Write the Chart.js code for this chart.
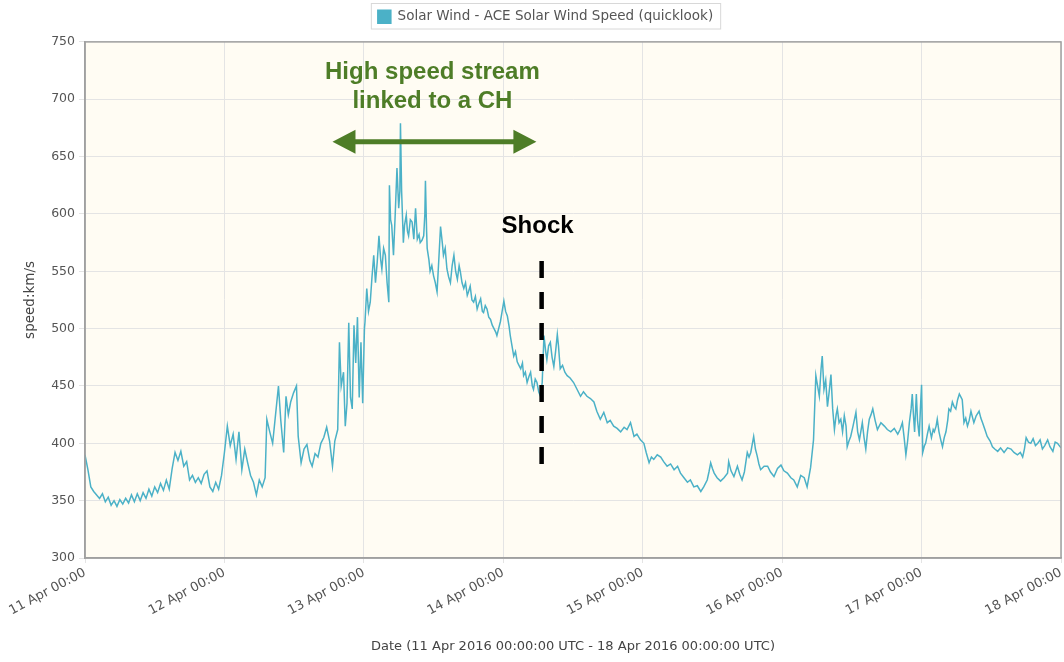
<!DOCTYPE html>
<html>
<head>
<meta charset="utf-8">
<script src="https://cdn.jsdelivr.net/npm/chart.js@4.4.1/dist/chart.umd.min.js"></script>
<style>
  html, body { margin: 0; padding: 0; background: #fff; }
  #wrap { width: 1064px; height: 662px; }
</style>
</head>
<body>
<div id="wrap"><canvas id="windChart"></canvas></div>
<script>
// tick labels, one per day
const dayLabels = ['11 Apr 00:00', '12 Apr 00:00', '13 Apr 00:00', '14 Apr 00:00',
  '15 Apr 00:00', '16 Apr 00:00', '17 Apr 00:00', '18 Apr 00:00'];

// [hours since 11 Apr 00:00, speed km/s]
const apr11 = [[0,390],[0.5,377],[1,362],[1.5,358],[2,355],[2.5,352],[3,356],[3.5,349],[4,353],[4.5,346],
  [5,350],[5.5,345],[6,351],[6.5,347],[7,352],[7.5,348],[8,355],[8.5,349],[9,356],[9.5,350],[10,357],
  [10.5,352],[11,360],[11.5,354],[12,362],[12.5,357],[13,365],[13.5,359],[14,368],[14.5,360],[15,378],
  [15.5,392],[16,385],[16.5,393],[17,380],[17.5,384],[18,368],[18.5,372],[19,366],[19.5,370],[20,365],
  [20.5,373],[21,376],[21.5,362],[22,358],[22.5,366],[23,360],[23.5,372]];
const apr12 = [[24,392],[24.5,415],[25,398],[25.5,408],[26,386],[26.5,410],[27,377],[27.5,395],[28,383],
  [28.5,372],[29,366],[29.5,355],[30,368],[30.5,362],[31,370],[31.3,421],[31.8,410],[32.3,400],[32.8,425],
  [33.3,450],[33.7,420],[34.2,392],[34.6,441],[35,425],[35.4,436],[35.9,444],[36.4,450],[36.7,406],
  [37.2,383],[37.7,395],[38.2,399],[38.7,385],[39.1,380],[39.6,391],[40.1,388],[40.6,400],[41.1,405],
  [41.6,414],[42.1,402],[42.6,380],[43,402],[43.5,412],[43.8,488],[44.1,450],[44.5,462],[44.8,415],
  [45.1,435],[45.4,505],[45.7,440],[46,430],[46.3,503],[46.6,470],[46.9,510],[47.2,440],[47.5,488],
  [47.8,435]];
const apr13 = [[48.1,500],[48.2,506],[48.5,535],[48.8,515],[49.1,523],[49.4,545],[49.7,564],[50,540],
  [50.3,558],[50.6,581],[50.9,560],[51.1,552],[51.4,570],[51.7,564],[52,540],[52.3,523],[52.4,625],
  [52.6,595],[52.8,590],[53.1,564],[53.4,600],[53.7,640],[54,605],[54.2,620],[54.3,679],[54.5,620],
  [54.6,605],[54.8,575],[55,590],[55.3,599],[55.5,585],[55.7,581],[56,595],[56.3,593],[56.6,578],
  [56.9,605],[57.2,578],[57.5,582],[57.7,575],[58,577],[58.3,581],[58.5,600],[58.6,629],[58.8,585],
  [58.9,570],[59.2,560],[59.4,550],[59.7,555],[60,546],[60.3,540],[60.6,532],[60.9,560],[61.2,589],
  [61.5,575],[61.7,564],[62,570],[62.3,552],[62.6,545],[62.9,540],[63.2,555],[63.5,564],[63.8,550],
  [64.1,543],[64.4,555],[64.6,550],[64.9,540],[65.2,535],[65.5,540],[65.8,529],[66,532],[66.3,537],
  [66.6,525],[66.9,523],[67.2,528],[67.5,517],[67.8,522],[68.1,526],[68.4,515],[68.6,514],[68.9,520],
  [69.2,517],[69.5,510],[69.8,508],[70.1,503],[70.4,500],[70.7,497],[70.9,494],[71.2,500],[71.5,506],
  [71.8,515]];
const apr14 = [[72.1,524],[72.4,515],[72.7,511],[73,502],[73.2,494],[73.5,485],[73.8,476],[74.1,480],
  [74.4,471],[74.7,468],[75,465],[75.3,470],[75.5,459],[75.8,462],[76.1,453],[76.4,458],[76.7,462],
  [77,450],[77.2,447],[77.5,456],[77.8,453],[78.1,445],[78.4,441],[78.7,453],[79,494],[79.3,480],
  [79.5,473],[79.8,485],[80.1,488],[80.4,475],[80.7,467],[81,480],[81.3,495],[81.5,485],[81.8,465],
  [82.2,468],[82.6,462],[83,459],[83.5,457],[84.1,453],[84.6,448],[85.3,441],[85.8,445],[86.4,441],
  [87,439],[87.6,436],[88.1,428],[88.7,421],[89.3,427],[89.9,418],[90.4,420],[91,415],[91.6,413],
  [92.2,410],[92.8,414],[93.3,412],[93.9,418],[94.5,406],[95,408],[95.6,403]];
const apr15 = [[96.2,400],[96.6,392],[97.1,383],[97.5,388],[97.9,386],[98.5,390],[99.1,388],[99.6,384],
  [100.2,380],[100.8,382],[101.4,377],[102,380],[102.5,374],[103.1,370],[103.7,366],[104.2,368],
  [104.8,362],[105.4,363],[106,358],[106.5,362],[107.1,368],[107.4,375],[107.7,383],[108,378],
  [108.3,374],[108.8,370],[109.4,367],[110,370],[110.6,374],[110.8,384],[111.2,376],[111.7,371],
  [112.3,380],[112.7,373],[113.1,368],[113.5,375],[114,392],[114.3,388],[114.6,392],[115.1,406],
  [115.4,395],[115.7,389],[116,382],[116.3,377],[116.9,380],[117.5,380],[118,375],[118.6,371],
  [119.2,378],[119.8,381]];
const apr16 = [[120.3,376],[120.9,374],[121.5,370],[122,368],[122.6,362],[123.2,372],[123.8,370],
  [124.3,362],[124.9,379],[125.4,403],[125.8,459],[126.1,450],[126.4,441],[126.7,465],[126.9,476],
  [127.2,447],[127.5,455],[127.8,432],[128.1,445],[128.4,460],[128.7,430],[129,412],[129.3,425],
  [129.5,430],[129.8,418],[130.1,421],[130.4,410],[130.7,424],[131,415],[131.2,397],[131.5,402],
  [131.8,406],[132.2,415],[132.7,427],[133,410],[133.3,403],[133.6,412],[133.8,418],[134.1,405],
  [134.4,395],[134.7,410],[135,421],[135.3,425],[135.6,430],[136,420],[136.4,412],[137,418],
  [137.6,415],[138.1,412],[138.7,410],[139.3,413],[139.9,408],[140.3,412],[140.7,418],[141,405],
  [141.3,390],[141.6,402],[141.9,418],[142.2,430],[142.4,443],[142.6,425],[142.8,410],[143.1,443],
  [143.3,420],[143.6,406],[143.8,430]];
const apr17 = [[144,451],[144.2,392],[144.5,398],[144.7,400],[145,408],[145.3,415],[145.7,405],[146,412],
  [146.2,410],[146.5,415],[146.7,421],[147,410],[147.3,403],[147.6,397],[147.9,405],[148.2,410],
  [148.5,420],[148.7,430],[149,428],[149.3,436],[149.6,432],[149.9,430],[150.2,438],[150.5,443],
  [150.8,440],[151,438],[151.3,418],[151.6,422],[151.9,415],[152.2,420],[152.5,428],[152.8,422],
  [153,418],[153.4,424],[153.9,428],[154.2,422],[154.5,418],[154.9,412],[155.3,406],[155.8,402],
  [156.2,397],[156.6,395],[157.1,393],[157.6,396],[158.2,392],[158.8,396],[159.4,395],[159.9,392],
  [160.5,390],[161,392],[161.4,388],[161.7,395],[162,405],[162.4,401],[162.8,400],[163.2,404],
  [163.6,398],[164,400],[164.4,403],[164.8,395],[165.2,398],[165.7,403],[166.1,397],[166.6,393],
  [167,401],[167.4,400],[168,396]];

const samples = [...apr11, ...apr12, ...apr13, ...apr14, ...apr15, ...apr16, ...apr17];

// annotations, in data units (hours, km/s)
const hssLabel = ['High speed stream', 'linked to a CH'];
const hssLabelAt = [59.8, 723.5, 698.5];
const hssArrow = [42.6, 77.7, 663];
const shockLabelAt = [77.9, 589];
const shockLine = [78.6, 559, 380];

const GREEN = '#4e7d27';
const LEGEND_SHIFT = 15; // legend sits a bit right of page centre

const plotDecor = {
  id: 'plotDecor',
  afterLayout(chart) {
    chart.legend.left += LEGEND_SHIFT;
    chart.legend.right += LEGEND_SHIFT;
  },
  beforeDraw(chart) {
    const a = chart.chartArea, ctx = chart.ctx;
    ctx.save();
    ctx.fillStyle = '#fffcf3';
    ctx.fillRect(a.left, a.top, a.right - a.left, a.bottom - a.top);
    ctx.restore();
  },
  afterDraw(chart) {
    const {ctx, chartArea: a, scales: {x, y}} = chart;
    ctx.save();
    // frame
    ctx.strokeStyle = '#a0a0a0';
    ctx.lineWidth = 1.5;
    ctx.strokeRect(a.left, a.top, a.right - a.left, a.bottom - a.top);

    // legend frame
    const hb = chart.legend.legendHitBoxes[0];
    if (hb) {
      ctx.strokeStyle = '#d8d8d8';
      ctx.lineWidth = 1;
      ctx.strokeRect(hb.left - 6.5, hb.top - 6.5, hb.width + 14, hb.height + 12);
    }

    // green label
    ctx.fillStyle = GREEN;
    ctx.font = 'bold 24px "Liberation Sans", Arial, sans-serif';
    ctx.textAlign = 'center';
    ctx.textBaseline = 'middle';
    const lx = x.getPixelForValue(hssLabelAt[0]);
    ctx.fillText(hssLabel[0], lx, y.getPixelForValue(hssLabelAt[1]));
    ctx.fillText(hssLabel[1], lx, y.getPixelForValue(hssLabelAt[2]));

    // double arrow
    const ax0 = x.getPixelForValue(hssArrow[0]);
    const ax1 = x.getPixelForValue(hssArrow[1]);
    const ay = y.getPixelForValue(hssArrow[2]);
    const head = 23, half = 12;
    ctx.strokeStyle = GREEN;
    ctx.lineWidth = 5;
    ctx.beginPath();
    ctx.moveTo(ax0 + head - 2, ay);
    ctx.lineTo(ax1 - head + 2, ay);
    ctx.stroke();
    ctx.beginPath();
    ctx.moveTo(ax0, ay);
    ctx.lineTo(ax0 + head, ay - half);
    ctx.lineTo(ax0 + head, ay + half);
    ctx.closePath();
    ctx.moveTo(ax1, ay);
    ctx.lineTo(ax1 - head, ay - half);
    ctx.lineTo(ax1 - head, ay + half);
    ctx.closePath();
    ctx.fill();

    // shock
    ctx.fillStyle = '#000';
    ctx.fillText('Shock', x.getPixelForValue(shockLabelAt[0]), y.getPixelForValue(shockLabelAt[1]));
    const sx = x.getPixelForValue(shockLine[0]);
    ctx.strokeStyle = '#000';
    ctx.lineWidth = 4.5;
    ctx.setLineDash([17, 14]);
    ctx.beginPath();
    ctx.moveTo(sx, y.getPixelForValue(shockLine[1]));
    ctx.lineTo(sx, y.getPixelForValue(shockLine[2]));
    ctx.stroke();
    ctx.restore();
  }
};

Chart.defaults.font.family = '"DejaVu Sans", sans-serif';
Chart.defaults.color = '#444';

new Chart(document.getElementById('windChart'), {
  type: 'line',
  data: {
    datasets: [{
      label: 'Solar Wind - ACE Solar Wind Speed (quicklook)',
      data: samples.map(s => ({x: s[0], y: s[1]})),
      borderColor: '#4bb1c7',
      backgroundColor: '#4bb1c7',
      borderWidth: 1.5,
      pointRadius: 0,
      tension: 0
    }]
  },
  options: {
    responsive: true,
    maintainAspectRatio: false,
    animation: false,
    layout: { padding: { top: 0, right: 3, left: 0, bottom: 0 } },
    plugins: {
      legend: {
        position: 'top',
        labels: {
          boxWidth: 13, boxHeight: 13, padding: 10,
          color: '#555',
          font: { size: 13.5 }
        }
      },
      subtitle: { display: true, text: '', weight: 500, padding: 0, font: { size: 7 } },
      tooltip: { enabled: false }
    },
    scales: {
      x: {
        type: 'linear',
        min: 0, max: 168,
        afterFit: s => { s.height = 104; s.paddingRight = 0; },
        ticks: {
          stepSize: 24,
          autoSkip: false,
          maxRotation: 28, minRotation: 28,
          padding: 2,
          font: { size: 13 },
          color: '#555',
          callback: v => dayLabels[v / 24]
        },
        grid: { color: '#e4e4e4', tickLength: 5 },
        border: { color: '#a0a0a0', width: 1.5 },
        title: {
          display: true,
          text: 'Date (11 Apr 2016 00:00:00 UTC - 18 Apr 2016 00:00:00 UTC)',
          color: '#444',
          font: { size: 13 },
          padding: { top: 0, bottom: 8 }
        }
      },
      y: {
        min: 300, max: 750,
        afterFit: s => { s.width = 85; },
        ticks: { stepSize: 50, padding: 4, font: { size: 12.5 }, color: '#555' },
        grid: { color: '#e4e4e4', tickLength: 6 },
        border: { color: '#a0a0a0', width: 1.5 },
        title: {
          display: true,
          text: 'speed:km/s',
          color: '#444',
          font: { size: 13.5 },
          padding: { top: 22, bottom: 0 }
        }
      }
    }
  },
  plugins: [plotDecor]
});
</script>
</body>
</html>
